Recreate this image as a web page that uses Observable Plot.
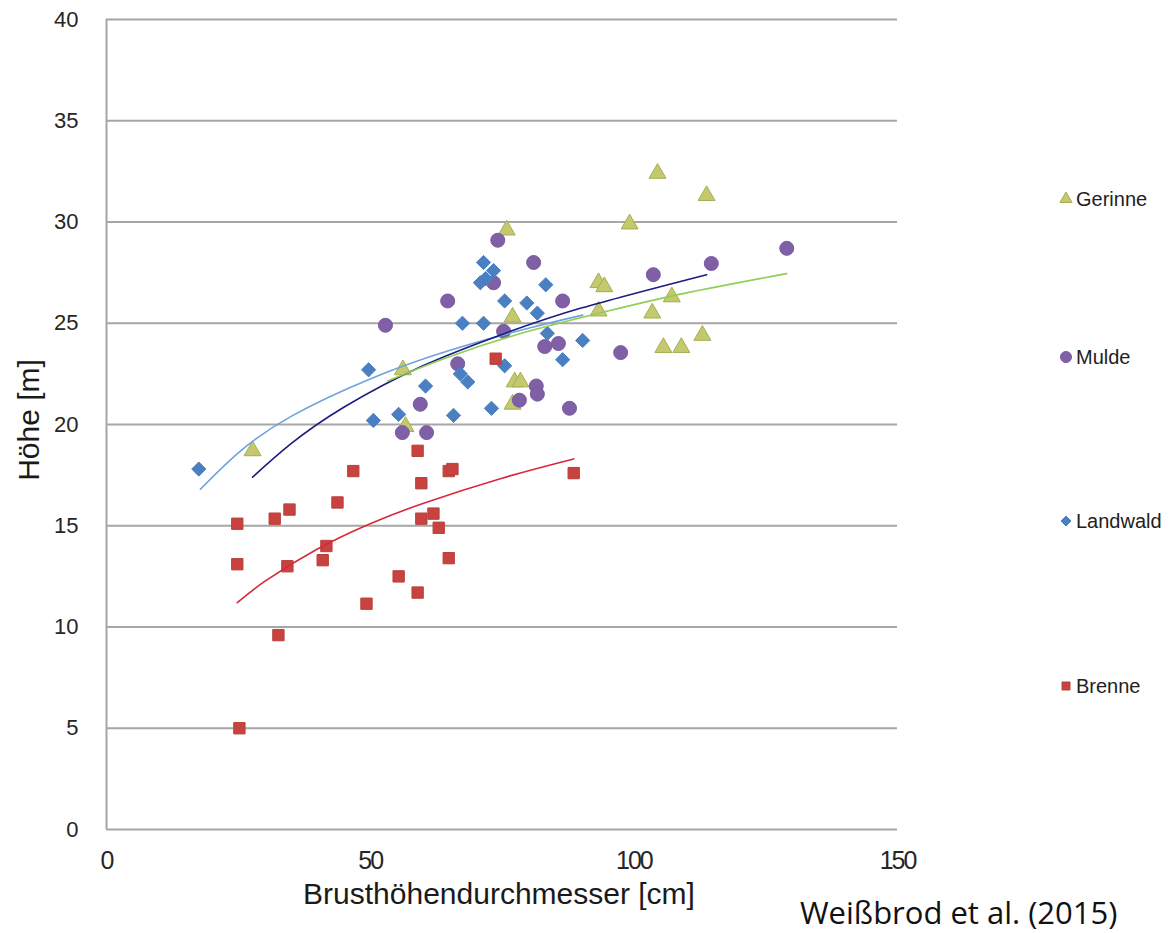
<!DOCTYPE html>
<html>
<head>
<meta charset="utf-8">
<script src="https://cdn.jsdelivr.net/npm/d3@7"></script>
<script src="https://cdn.jsdelivr.net/npm/@observablehq/plot@0.6"></script>
<style>
  html, body { margin: 0; padding: 0; background: #fff; overflow: hidden; }
  #chart { width: 1171px; height: 933px; overflow: hidden; }
</style>
</head>
<body>
<div id="chart"></div>
<script>
// ---- data ----
const seriesNames = ["Gerinne", "Mulde", "Landwald", "Brenne"];
const xTicks = [0, 50, 100, 150];
const yTicks = [0, 5, 10, 15, 20, 25, 30, 35, 40];

const gerinne = [[27.7,18.7],[56.2,22.7],[56.7,19.9],[75.9,29.6],[77.0,25.3],[77.4,22.1],[78.5,22.1],[77.0,21.0],
  [93.3,27.0],[94.4,26.8],[93.3,25.6],[103.5,25.5],[107.2,26.3],[105.6,23.8],[109.0,23.8],[113.0,24.4],
  [99.2,29.9],[104.5,32.4],[113.8,31.3]];
const mulde = [[52.9,24.9],[56.1,19.6],[59.5,21.0],[60.7,19.6],[64.7,26.1],[66.6,23.0],[73.4,27.0],[74.2,29.1],
  [75.3,24.6],[78.3,21.2],[81.0,28.0],[81.5,21.9],[81.7,21.5],[83.1,23.85],[85.7,24.0],[86.5,26.1],[87.8,20.8],
  [97.5,23.55],[103.7,27.4],[114.7,27.95],[129.0,28.7]];
const landwald = [[17.5,17.8],[49.7,22.7],[50.6,20.2],[55.4,20.5],[60.5,21.9],[65.8,20.45],[67.1,22.5],[68.5,22.1],
  [67.5,25.0],[70.9,27.0],[71.5,28.0],[71.9,27.2],[73.4,27.6],[71.5,25.0],[73.0,20.8],[75.5,26.1],[75.5,22.9],
  [79.7,26.0],[81.7,25.5],[83.3,26.9],[83.6,24.5],[86.5,23.2],[90.3,24.15]];
const brenne = [[24.8,15.1],[24.8,13.1],[25.2,5.0],[31.9,15.35],[32.6,9.6],[34.3,13.0],[34.7,15.8],[41.0,13.3],
  [41.7,14.0],[43.8,16.15],[46.8,17.7],[49.3,11.15],[55.4,12.5],[59.0,18.7],[59.0,11.7],[59.7,17.1],[59.7,15.35],
  [62.0,15.6],[63.0,14.9],[64.9,17.7],[65.6,17.8],[64.9,13.4],[73.8,23.25],[88.6,17.6]];

// trend lines, points
const trendNavy  = [[27.7,17.4],[35,19.05],[45,20.85],[60,22.9],[75,24.45],[90,25.75],[113.8,27.4]];
const trendLightBlue = [[17.8,16.8],[25,18.6],[35,20.4],[50,22.25],[65,23.65],[80,24.75],[90.3,25.4]];
const trendGreen = [[53.3,22.15],[65,23.35],[80,24.6],[95,25.6],[110,26.5],[129,27.45]];
const trendRed   = [[24.8,11.2],[30,12.25],[40,13.85],[50,15.1],[60,16.1],[75,17.35],[88.6,18.3]];

// ---- styles ----
const styles = {
  Gerinne:  {data: gerinne,  symbol: "triangle", fill: "#c3c96c", stroke: "#a6ad52", r: 6.3},
  Mulde:    {data: mulde,    symbol: "circle",   fill: "#7f5fa6", stroke: "#7a5aa0", r: 7.0},
  Landwald: {data: landwald, symbol: "diamond2", fill: "#4a80c2", stroke: "#4a80c2", r: 6.4},
  Brenne:   {data: brenne,   symbol: "square",   fill: "#c8423f", stroke: "#b8403c", r: 6.4}
};
const trends = [
  {data: trendLightBlue, stroke: "#6fa3dc"},
  {data: trendNavy,  stroke: "#1c1c80"},
  {data: trendGreen, stroke: "#8fcf55"},
  {data: trendRed,   stroke: "#d8283a"}
];

const dotMarks = seriesNames.map(n => {
  const s = styles[n];
  return Plot.dot(s.data, {x: d => d[0], y: d => d[1], symbol: s.symbol, r: s.r,
    fill: s.fill, stroke: s.stroke, strokeWidth: 1});
});
const lineMarks = trends.map(t => Plot.line(t.data, {x: d => d[0], y: d => d[1],
  stroke: t.stroke, strokeWidth: 1.6, curve: "natural"}));

const svg = Plot.plot({
  width: 1171, height: 933,
  marginLeft: 106, marginRight: 274, marginTop: 19, marginBottom: 104,
  x: {domain: [0, 150], ticks: xTicks},
  y: {domain: [0, 40], ticks: yTicks},
  style: {fontFamily: "'Liberation Sans', Arial, sans-serif", background: "#fff", color: "#222"},
  marks: [
    Plot.gridY(yTicks, {stroke: "#a6a6a6", strokeOpacity: 1, strokeWidth: 2}),
    Plot.ruleX([0], {stroke: "#a6a6a6", strokeWidth: 2}),
    Plot.axisY(yTicks, {tickSize: 0, tickPadding: 28, fontSize: 22, label: null, fill: "#262626"}),
    Plot.axisX(xTicks, {tickSize: 0, tickPadding: 22, fontSize: 25, label: null, fill: "#262626"}),
    ...dotMarks,
    ...lineMarks
  ]
});

// narrower x tick labels, like the reference
d3.select(svg).selectAll("[aria-label='x-axis tick label'] text").attr("letter-spacing", "-2");

// ---- titles, legend, source ----
const s = d3.select(svg);
s.append("text").attr("x", 499).attr("y", 904).attr("text-anchor", "middle")
  .attr("font-family", "'Liberation Sans', Arial, sans-serif").attr("font-size", 30).attr("fill", "#1a1a1a")
  .text("Brusthöhendurchmesser [cm]");
s.append("text").attr("transform", "translate(39,420) rotate(-90)").attr("text-anchor", "middle")
  .attr("font-family", "'Liberation Sans', Arial, sans-serif").attr("font-size", 30).attr("fill", "#1a1a1a")
  .text("Höhe [m]");

const legendY = {Gerinne: 199, Mulde: 357, Landwald: 521, Brenne: 686};
const symMap = {triangle: d3.symbolTriangle, circle: d3.symbolCircle, diamond2: d3.symbolDiamond2, square: d3.symbolSquare};
const legendSize = {Gerinne: 64, Mulde: 95, Landwald: 64, Brenne: 64};
const lg = s.append("g");
seriesNames.forEach(n => {
  const st = styles[n];
  lg.append("path").attr("transform", `translate(1066,${legendY[n]})`)
    .attr("d", d3.symbol(symMap[st.symbol], legendSize[n])())
    .attr("fill", st.fill).attr("stroke", st.stroke);
  lg.append("text").attr("x", 1076).attr("y", legendY[n] + 7).attr("text-anchor", "start")
    .attr("font-family", "'Liberation Sans', Arial, sans-serif").attr("font-size", 20).attr("fill", "#222")
    .text(n);
});
s.append("text").attr("x", 800).attr("y", 924).attr("text-anchor", "start")
  .attr("font-family", "'Open Sans', 'Noto Sans', sans-serif").attr("font-size", 31).attr("fill", "#111")
  .text("Weißbrod et al. (2015)");

document.getElementById("chart").appendChild(svg);
</script>
</body>
</html>
